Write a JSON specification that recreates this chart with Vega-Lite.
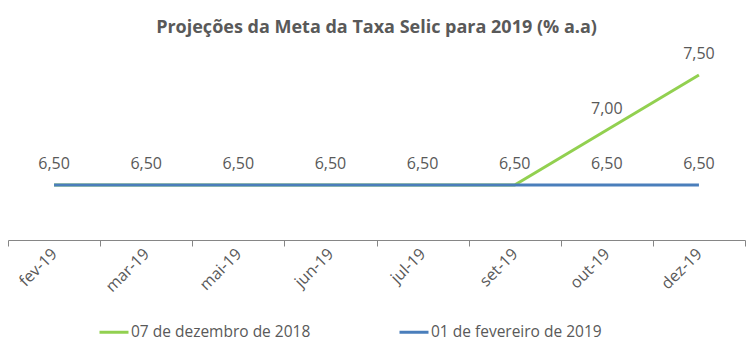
{
  "$schema": "https://vega.github.io/schema/vega-lite/v6.json",
  "autosize": "none",
  "width": 737,
  "height": 165,
  "padding": {"left": 8, "top": 75, "right": 6, "bottom": 117},
  "background": "white",
  "config": {
    "view": {"stroke": null},
    "font": "Open Sans",
    "locale": {"number": {"decimal": ",", "thousands": ".", "grouping": [3], "currency": ["R$", ""]}}
  },
  "title": {
    "text": "Projeções da Meta da Taxa Selic para  2019 (% a.a)",
    "font": "Open Sans",
    "fontSize": 18,
    "fontWeight": "bold",
    "color": "#595959",
    "anchor": "middle",
    "offset": 9
  },
  "data": {
    "values": [
      {"mes": "fev-19", "serie": "07 de dezembro de 2018", "valor": 6.5},
      {"mes": "mar-19", "serie": "07 de dezembro de 2018", "valor": 6.5},
      {"mes": "mai-19", "serie": "07 de dezembro de 2018", "valor": 6.5},
      {"mes": "jun-19", "serie": "07 de dezembro de 2018", "valor": 6.5},
      {"mes": "jul-19", "serie": "07 de dezembro de 2018", "valor": 6.5},
      {"mes": "set-19", "serie": "07 de dezembro de 2018", "valor": 6.5},
      {"mes": "out-19", "serie": "07 de dezembro de 2018", "valor": 7.0},
      {"mes": "dez-19", "serie": "07 de dezembro de 2018", "valor": 7.5},
      {"mes": "fev-19", "serie": "01 de fevereiro de 2019", "valor": 6.5},
      {"mes": "mar-19", "serie": "01 de fevereiro de 2019", "valor": 6.5},
      {"mes": "mai-19", "serie": "01 de fevereiro de 2019", "valor": 6.5},
      {"mes": "jun-19", "serie": "01 de fevereiro de 2019", "valor": 6.5},
      {"mes": "jul-19", "serie": "01 de fevereiro de 2019", "valor": 6.5},
      {"mes": "set-19", "serie": "01 de fevereiro de 2019", "valor": 6.5},
      {"mes": "out-19", "serie": "01 de fevereiro de 2019", "valor": 6.5},
      {"mes": "dez-19", "serie": "01 de fevereiro de 2019", "valor": 6.5}
    ]
  },
  "encoding": {
    "x": {
      "field": "mes",
      "type": "ordinal",
      "sort": null,
      "scale": {"paddingInner": 0, "paddingOuter": 0},
      "axis": {
        "title": null,
        "tickBand": "extent",
        "domainColor": "#868686",
        "tickColor": "#868686",
        "tickSize": 6,
        "labelAngle": -45,
        "labelAlign": "right",
        "labelBaseline": "middle",
        "labelFontSize": 16,
        "labelColor": "#595959",
        "labelPadding": 5,
        "labelFont": "Open Sans"
      }
    },
    "y": {
      "field": "valor",
      "type": "quantitative",
      "scale": {"domain": [6, 7.5], "zero": false, "nice": false},
      "axis": null
    },
    "color": {
      "field": "serie",
      "type": "nominal",
      "scale": {
        "domain": ["07 de dezembro de 2018", "01 de fevereiro de 2019"],
        "range": ["#92D050", "#4A7EBB"]
      },
      "legend": {
        "title": null,
        "orient": "none",
        "direction": "horizontal",
        "legendX": 90,
        "legendY": 241,
        "symbolType": "stroke",
        "symbolStrokeWidth": 3,
        "symbolSize": 841,
        "labelFontSize": 15.5,
        "labelColor": "#595959",
        "labelFont": "Open Sans",
        "labelOffset": 1,
        "labelLimit": 400,
        "columnPadding": 82
      }
    }
  },
  "layer": [
    {
      "transform": [{"filter": "datum.serie == '07 de dezembro de 2018'"}],
      "mark": {"type": "line", "strokeWidth": 3}
    },
    {
      "transform": [{"filter": "datum.serie == '01 de fevereiro de 2019'"}],
      "mark": {"type": "line", "strokeWidth": 3}
    },
    {
      "transform": [{"filter": "datum.serie == '01 de fevereiro de 2019' || datum.valor > 6.5"}],
      "mark": {"type": "text", "dy": -21, "fontSize": 16, "color": "#595959", "font": "Open Sans"},
      "encoding": {
        "text": {"field": "valor", "type": "quantitative", "format": ".2f"},
        "color": {"value": "#595959"}
      }
    }
  ]
}
